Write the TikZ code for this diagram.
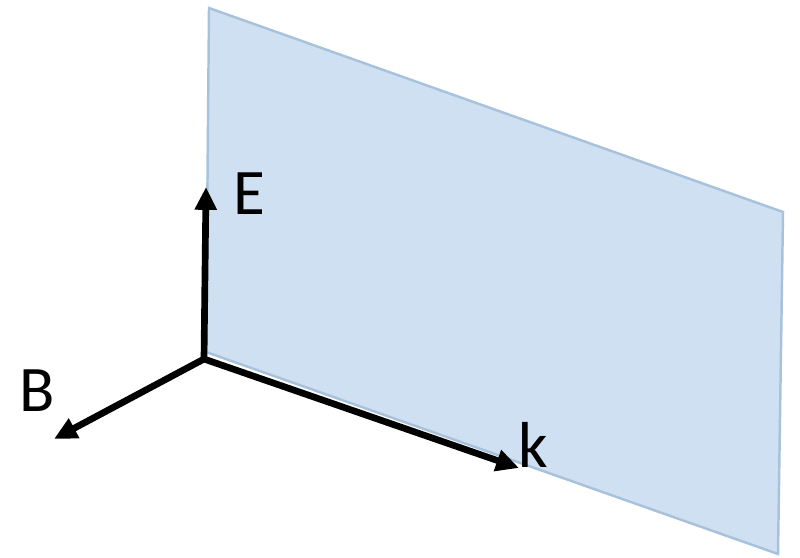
\documentclass[tikz,border=0pt]{standalone}
\usepackage{fontspec}
\setmainfont{Carlito}
\usetikzlibrary{arrows.meta, positioning}
\definecolor{PlaneFill}{HTML}{CFE0F2}
\definecolor{PlaneEdge}{HTML}{A8C2DC}
\tikzset{
  axisarrow/.style={line width=3.8pt, -{Triangle[length=13pt, width=12pt]}},
  axislabel/.style={font=\fontsize{37pt}{40pt}\selectfont, inner sep=0pt}
}

\begin{document}
\begin{tikzpicture}[x=0.02cm, y=-0.02cm]
  \useasboundingbox (0,0) rectangle (800,557);
  % wave front plane
  \draw[PlaneEdge, line width=1.4pt, fill=PlaneFill] (209,8) -- (783,212) -- (778,554) -- (206,352) -- cycle;
  % field vectors
  \coordinate (origin) at (204,359);
  \coordinate (Etip) at (206,187);
  \coordinate (Btip) at (54,439);
  \coordinate (ktip) at (519,468);
  \draw[axisarrow] (origin) -- (Etip);
  \draw[axisarrow] (origin) -- (Btip);
  \draw[axisarrow] (origin) -- (ktip);
  % labels
  \node[axislabel] (Elabel) at (249,194) {E};
  \node[axislabel] (Blabel) at (37,391) {B};
  \node[axislabel] (klabel) at (533,445) {k};
\end{tikzpicture}
\end{document}
